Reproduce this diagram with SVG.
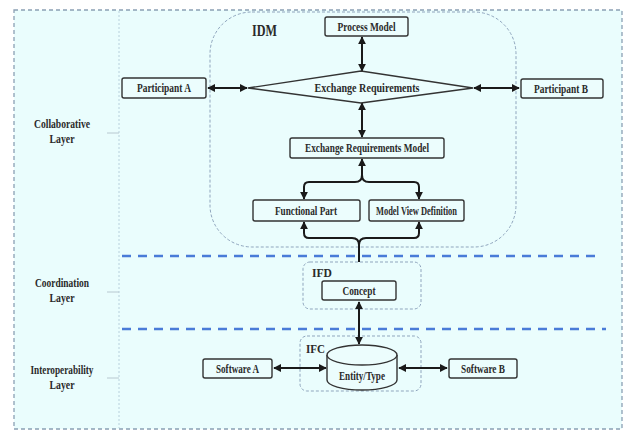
<svg xmlns="http://www.w3.org/2000/svg" width="627" height="431" viewBox="0 0 627 431">
<style>
text{font-family:"Liberation Serif","Times New Roman",serif;font-weight:bold;fill:#2a2a2a;text-anchor:middle}
.t{font-size:11.5px}
.h{font-size:16px;text-anchor:start}
.h2{font-size:12.5px;text-anchor:start}
.box{fill:#ecfdfd;stroke:#333;stroke-width:1.4}
.cont{fill:none;stroke:#8fa5bd;stroke-width:1;stroke-dasharray:3 2}
.sep{fill:none;stroke:#4a7bd8;stroke-width:2.5;stroke-dasharray:9 7}
.c{fill:none;stroke:#1a1a1a;stroke-width:2;marker-start:url(#a);marker-end:url(#a)}
.c1{fill:none;stroke:#1a1a1a;stroke-width:2}
.ce{fill:none;stroke:#1a1a1a;stroke-width:2;marker-end:url(#a)}
</style>
<defs>
<marker id="a" viewBox="0 0 10 10" refX="9" refY="5" markerWidth="4" markerHeight="4" orient="auto-start-reverse" markerUnits="strokeWidth">
<path d="M0,0 L10,5 L0,10 z" fill="#1a1a1a"/>
</marker>
</defs>
<rect x="0" y="0" width="627" height="431" fill="#ffffff"/>
<rect x="14" y="10" width="608" height="419" fill="#eafdfd" stroke="#8aa0b4" stroke-width="1.3" stroke-dasharray="4 3"/>
<line x1="119" y1="11" x2="119" y2="428" stroke="#b8d0dc" stroke-width="1" stroke-dasharray="2 2"/>
<g id="layers">
<line x1="107" y1="133" x2="119" y2="133" stroke="#b8c8d0" stroke-width="1"/>
<line x1="107" y1="292" x2="119" y2="292" stroke="#b8c8d0" stroke-width="1"/>
<line x1="107" y1="378" x2="119" y2="378" stroke="#b8c8d0" stroke-width="1"/>
<text class="t" x="62" y="128" textLength="56" lengthAdjust="spacingAndGlyphs">Collaborative</text>
<text class="t" x="62" y="143" textLength="25" lengthAdjust="spacingAndGlyphs">Layer</text>
<text class="t" x="62" y="287" textLength="54" lengthAdjust="spacingAndGlyphs">Coordination</text>
<text class="t" x="62" y="302" textLength="25" lengthAdjust="spacingAndGlyphs">Layer</text>
<text class="t" x="62" y="374" textLength="63" lengthAdjust="spacingAndGlyphs">Interoperability</text>
<text class="t" x="62" y="389" textLength="25" lengthAdjust="spacingAndGlyphs">Layer</text>
<line class="sep" x1="122" y1="256" x2="600" y2="256"/>
<line class="sep" x1="122" y1="329" x2="606" y2="329"/>
</g>
<g id="idm">
<rect class="cont" x="210" y="12" width="306" height="235" rx="42"/>
<text class="h" x="252" y="36" textLength="25" lengthAdjust="spacingAndGlyphs">IDM</text>
</g>
<g id="ifd">
<rect class="cont" x="303" y="262" width="118" height="47" rx="7"/>
<text class="h2" x="312" y="277" textLength="20" lengthAdjust="spacingAndGlyphs">IFD</text>
</g>
<g id="ifc">
<rect class="cont" x="300" y="336" width="121" height="55" rx="7"/>
<text class="h2" x="306" y="353" textLength="19" lengthAdjust="spacingAndGlyphs">IFC</text>
</g>
<g id="connectors">
<line class="c" x1="208" y1="88" x2="247" y2="88"/>
<line class="c" x1="474" y1="88" x2="519" y2="88"/>
<line class="c" x1="362" y1="37" x2="362" y2="71"/>
<line class="c" x1="362" y1="103" x2="362" y2="137"/>
<line class="ce" x1="362" y1="175" x2="362" y2="159"/>
<path class="ce" d="M362,175 Q362,182 355,182 L309,182 Q304,182 304,187 L304,199"/>
<path class="ce" d="M362,175 Q362,182 369,182 L414,182 Q419,182 419,187 L419,199"/>
<path class="ce" d="M359,245 Q359,238 352,238 L309,238 Q304,238 304,233 L304,222"/>
<path class="ce" d="M359,245 Q359,238 366,238 L414,238 Q419,238 419,233 L419,222"/>
<line class="c1" x1="359" y1="244" x2="359" y2="262"/>
<line class="c" x1="359" y1="302" x2="359" y2="344"/>
<line class="c" x1="274" y1="368" x2="326" y2="368"/>
<line class="c" x1="399" y1="368" x2="447" y2="368"/>
</g>
<g id="process-model">
<rect class="box" x="325" y="17" width="83" height="19" rx="2"/>
<text class="t" x="366.5" y="30.5" textLength="58" lengthAdjust="spacingAndGlyphs">Process Model</text>
</g>
<g id="participant-a">
<rect class="box" x="122" y="78" width="84" height="20" rx="2"/>
<text class="t" x="164" y="92" textLength="54" lengthAdjust="spacingAndGlyphs">Participant A</text>
</g>
<g id="participant-b">
<rect class="box" x="521" y="79" width="82" height="19" rx="2"/>
<text class="t" x="561" y="92.5" textLength="54" lengthAdjust="spacingAndGlyphs">Participant B</text>
</g>
<g id="exchange-requirements">
<polygon class="box" points="248,88 361,71 473,88 361,103"/>
<text class="t" x="367" y="92" textLength="105" lengthAdjust="spacingAndGlyphs">Exchange Requirements</text>
</g>
<g id="erm">
<rect class="box" x="290" y="138" width="154" height="20" rx="2"/>
<text class="t" x="367" y="152" textLength="124" lengthAdjust="spacingAndGlyphs">Exchange Requirements Model</text>
</g>
<g id="functional-part">
<rect class="box" x="253" y="200" width="107" height="21" rx="2"/>
<text class="t" x="306" y="214.5" textLength="62" lengthAdjust="spacingAndGlyphs">Functional Part</text>
</g>
<g id="mvd">
<rect class="box" x="369" y="200" width="95" height="21" rx="2"/>
<text class="t" x="416.5" y="214.5" textLength="81" lengthAdjust="spacingAndGlyphs">Model View Definition</text>
</g>
<g id="concept">
<rect class="box" x="322" y="281" width="74" height="19" rx="2"/>
<text class="t" x="359" y="294.5" textLength="33" lengthAdjust="spacingAndGlyphs">Concept</text>
</g>
<g id="entity-type">
<path class="box" d="M327,355 L327,380 A35,10 0 0 0 397,380 L397,355"/>
<ellipse class="box" cx="362" cy="355" rx="35" ry="10"/>
<text class="t" x="362" y="379.5" textLength="46" lengthAdjust="spacingAndGlyphs">Entity/Type</text>
</g>
<g id="software-a">
<rect class="box" x="203" y="359" width="69" height="19" rx="2"/>
<text class="t" x="237.5" y="372.5" textLength="43" lengthAdjust="spacingAndGlyphs">Software A</text>
</g>
<g id="software-b">
<rect class="box" x="449" y="359" width="68" height="19" rx="2"/>
<text class="t" x="483" y="372.5" textLength="44" lengthAdjust="spacingAndGlyphs">Software B</text>
</g>
</svg>
